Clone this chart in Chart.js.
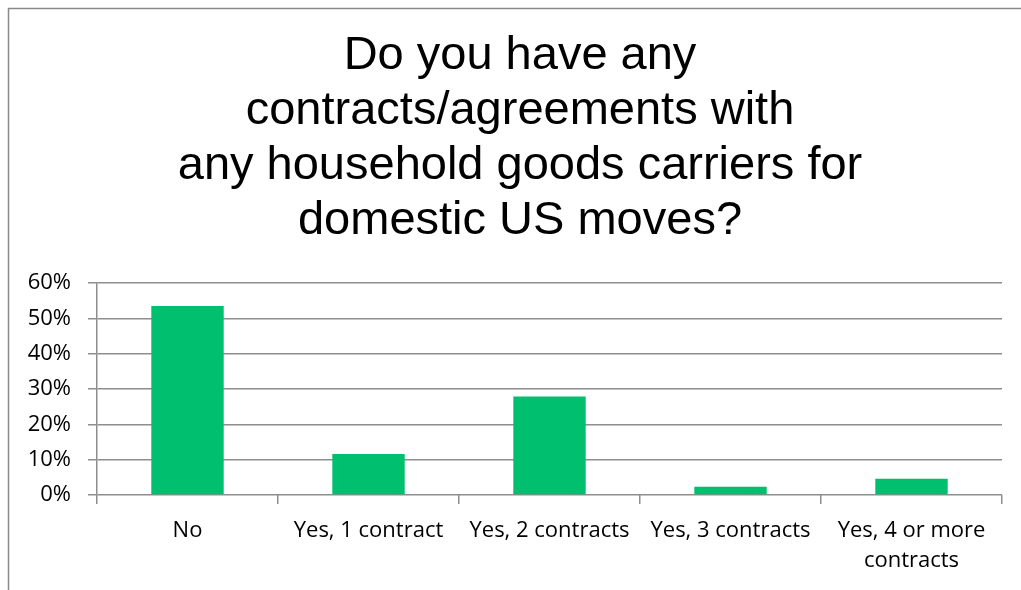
<!DOCTYPE html>
<html>
<head>
<meta charset="utf-8">
<script src="https://cdn.jsdelivr.net/npm/chart.js@4"></script>
<style>
  html, body { margin: 0; padding: 0; background: #fff; overflow: hidden; }
  #wrap { width: 1021px; height: 590px; }
</style>
</head>
<body>
<div id="wrap"><canvas id="chart" width="1021" height="590"></canvas></div>
<script>
const titleLines = ['Do you have any', 'contracts/agreements with', 'any household goods carriers for', 'domestic US moves?'];
const categories = ['No', 'Yes, 1 contract', 'Yes, 2 contracts', 'Yes, 3 contracts', ['Yes, 4 or more', 'contracts']];
const shares = [53.5, 11.6, 27.9, 2.3, 4.6];
const yTicks = [0, 10, 20, 30, 40, 50, 60];

const gridColor = '#8e8e8e';
const labelFont = { family: '"Open Sans", sans-serif', size: 22, lineHeight: 1.364 };

// outer frame of the chart box, only its left and top edges are in view
const frame = {
    id: 'frame',
    afterLayout(chart) {
        // centre the title over the space right of the frame edge
        if (chart.titleBlock) chart.titleBlock.left = 38;
    },
    beforeDraw(chart) {
        const c = chart.ctx;
        c.save();
        c.strokeStyle = '#8a8a8a';
        c.lineWidth = 1.5;
        c.beginPath();
        c.moveTo(8.5, chart.height + 5);
        c.lineTo(8.5, 8.5);
        c.lineTo(chart.width + 5, 8.5);
        c.stroke();
        c.restore();
    }
};

new Chart(document.getElementById('chart'), {
    type: 'bar',
    data: {
        labels: categories,
        datasets: [{
            data: shares,
            backgroundColor: '#00bf6f',
            borderWidth: 0,
            barPercentage: 0.8,
            categoryPercentage: 0.5
        }]
    },
    plugins: [frame],
    options: {
        responsive: false,
        animation: false,
        devicePixelRatio: 1,
        layout: { padding: { left: 0, right: 19, top: 0, bottom: 0 } },
        plugins: {
            legend: { display: false },
            tooltip: { enabled: false },
            title: {
                display: true,
                text: titleLines,
                color: '#000',
                font: { family: '"Liberation Sans", Arial, sans-serif', size: 47, weight: 'normal', lineHeight: 1.17 },
                padding: { top: 29, bottom: 34 }
            }
        },
        scales: {
            x: {
                offset: true,
                grid: {
                    offset: true,
                    drawOnChartArea: false,
                    drawTicks: true,
                    tickLength: 9,
                    color: gridColor,
                    lineWidth: 1.5
                },
                border: { display: false },
                ticks: {
                    color: '#000',
                    padding: 12,
                    maxRotation: 0,
                    autoSkip: false,
                    font: labelFont
                },
                afterFit(scale) { scale.height = 95; }
            },
            y: {
                min: 0,
                max: 60,
                afterBuildTicks(scale) { scale.ticks = yTicks.map(v => ({ value: v })); },
                grid: {
                    color: gridColor,
                    lineWidth: 1.5,
                    drawTicks: true,
                    tickLength: 9
                },
                border: { display: true, color: gridColor, width: 1.5 },
                ticks: {
                    color: '#000',
                    padding: 17,
                    callback: v => v + '%',
                    font: labelFont
                },
                afterFit(scale) { scale.width = 97; }
            }
        }
    }
});
</script>
</body>
</html>
